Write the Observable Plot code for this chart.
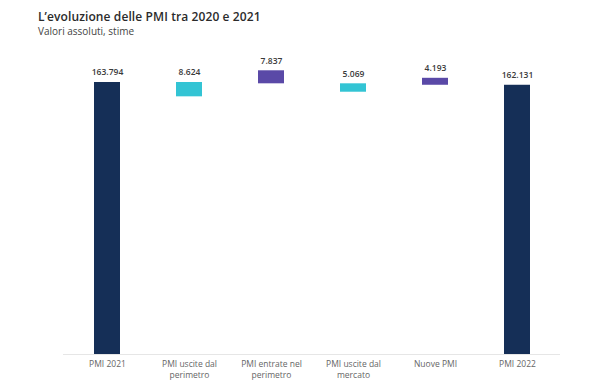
<!DOCTYPE html>
<html>
<head>
<meta charset="utf-8">
<script src="https://cdn.jsdelivr.net/npm/d3@7"></script>
<script src="https://cdn.jsdelivr.net/npm/@observablehq/plot@0.6"></script>
<style>
  html, body { margin: 0; padding: 0; background: #fff; }
  #wrap { width: 603px; height: 388px; position: relative; overflow: hidden; font-family: "Open Sans", sans-serif; }
  #head { height: 40px; position: relative; }
  #title { position: absolute; left: 38px; top: 9px; font-size: 12px; line-height: 16px; font-weight: 600; color: #2b2b2b; white-space: nowrap; letter-spacing: 0.1px; }
  #subtitle { position: absolute; left: 38px; top: 25px; font-size: 10px; line-height: 12px; color: #444; white-space: nowrap; }
  svg { display: block; }
</style>
</head>
<body>
<div id="wrap">
  <div id="head">
    <div id="title">L’evoluzione delle PMI tra 2020 e 2021</div>
    <div id="subtitle">Valori assoluti, stime</div>
  </div>
  <div id="chart"></div>
</div>
<script>
// Categories and tick labels
const categories = ["PMI 2021", "PMI uscite dal perimetro", "PMI entrate nel perimetro", "PMI uscite dal mercato", "Nuove PMI", "PMI 2022"];
const tickLabels = ["PMI 2021", "PMI uscite dal\nperimetro", "PMI entrate nel\nperimetro", "PMI uscite dal\nmercato", "Nuove PMI", "PMI 2022"];
// Values shown as labels
const values = [163794, 8624, 7837, 5069, 4193, 162131];
// Bar kind
const kinds = ["totale", "uscita", "entrata", "uscita", "entrata", "totale"];
// Bar extents as drawn in the reference (estimated)
const barBottom = [0, 155170, 163007, 157938, 162131, 0];
const barTop = [163794, 163794, 170844, 163007, 166324, 162131];

const itLocale = d3.formatLocale({decimal: ",", thousands: ".", grouping: [3], currency: ["€", ""]});
const fmt = itLocale.format(",");

const data = categories.map((c, i) => ({
  cat: c, tick: tickLabels[i], value: values[i], kind: kinds[i], y1: barBottom[i], y2: barTop[i]
}));

const W = 603, H = 348;
const chart = Plot.plot({
  width: W,
  height: H,
  marginLeft: 63,
  marginRight: 43,
  marginTop: 42,
  marginBottom: 34,
  style: {fontFamily: "Open Sans, sans-serif", background: "#fff"},
  x: {domain: categories, paddingInner: 0.686, paddingOuter: 0.343, label: null},
  y: {domain: [0, 163794], axis: null},
  color: {domain: ["totale", "uscita", "entrata"], range: ["#152f57", "#33c4d4", "#5a49a7"]},
  marks: [
    Plot.ruleY([0], {stroke: "#e6e6e6", strokeWidth: 1}),
    Plot.rectY(data, {x: "cat", y1: "y1", y2: "y2", fill: "kind"}),
    Plot.text(data, {x: "cat", y: "y2", text: d => fmt(d.value), dy: -10, fontSize: 8.5, fontWeight: 600, fill: "#3a3a3a"}),
    Plot.axisX({
      tickSize: 0,
      tickPadding: 5,
      tickFormat: d => tickLabels[categories.indexOf(d)],
      fontSize: 8.5,
      lineHeight: 1.3,
      fill: "#666",
      lineAnchor: "top",
      label: null,
      style: {letterSpacing: "0.4px"}
    })
  ]
});
document.getElementById("chart").appendChild(chart);
</script>
</body>
</html>
